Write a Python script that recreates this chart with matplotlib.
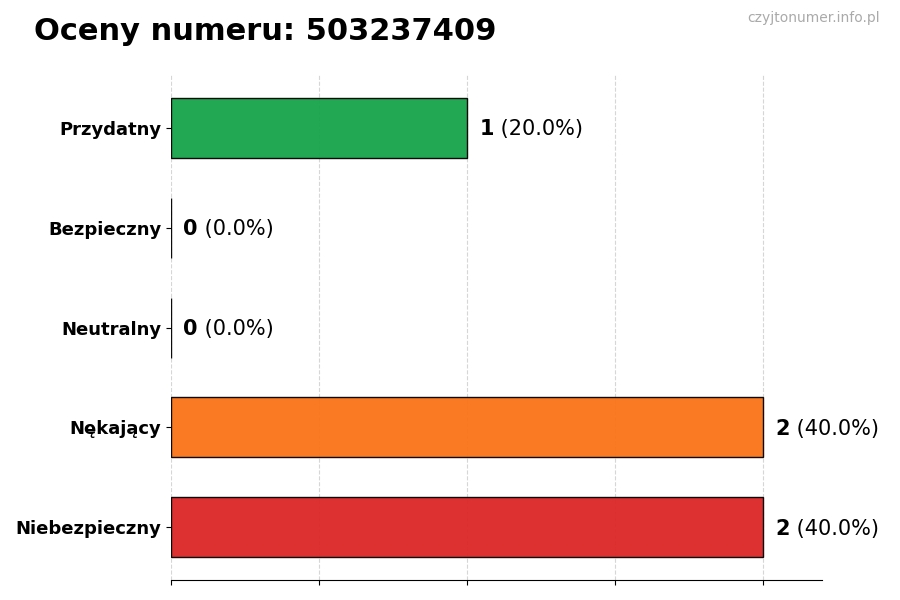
import matplotlib
matplotlib.use("Agg")
import matplotlib.pyplot as plt

categories = ["Przydatny", "Bezpieczny", "Neutralny", "Nękający", "Niebezpieczny"]
counts = [1, 0, 0, 2, 2]
colors = ["#16a34a", "#9ca3af", "#6b7280", "#f97316", "#dc2626"]
phone = "503237409"

total = sum(counts)
fig = plt.figure(figsize=(9, 6), dpi=100)
ax = fig.add_axes([0.19, 0.033, 0.723, 0.842])

ypos = list(range(len(categories)))[::-1]
ax.barh(ypos, counts, height=0.6, color=colors, edgecolor="black", linewidth=1, alpha=0.95, zorder=2)
ax.set_yticks(ypos)
ax.set_yticklabels(categories, fontsize=13, fontweight="bold")
ax.set_xlim(0, 2.2)
ax.set_xticks([0, 0.5, 1, 1.5, 2])
ax.set_xticklabels([])
ax.grid(axis="x", linestyle="--", color="#cccccc", alpha=0.8, zorder=0)
ax.set_axisbelow(True)
for s in ["top", "right", "left"]:
    ax.spines[s].set_visible(False)

for y, c in zip(ypos, counts):
    pct = c / total * 100
    t = ax.annotate(f"{c}", xy=(c, y), xytext=(9, -1), textcoords="offset points",
                    va="center", ha="left", fontsize=15, fontweight="bold")
    fig.canvas.draw()
    ax.annotate(f" ({pct:.1f}%)", xycoords=t, xy=(1, 0.5), va="center", ha="left", fontsize=15)

fig.text(0.038, 0.948, f"Oceny numeru: {phone}", fontsize=22, fontweight="bold", va="center", ha="left")
fig.text(0.978, 0.97, "czyjtonumer.info.pl", fontsize=10, color="#aaaaaa", va="center", ha="right")

fig.savefig("out.png", dpi=100)
